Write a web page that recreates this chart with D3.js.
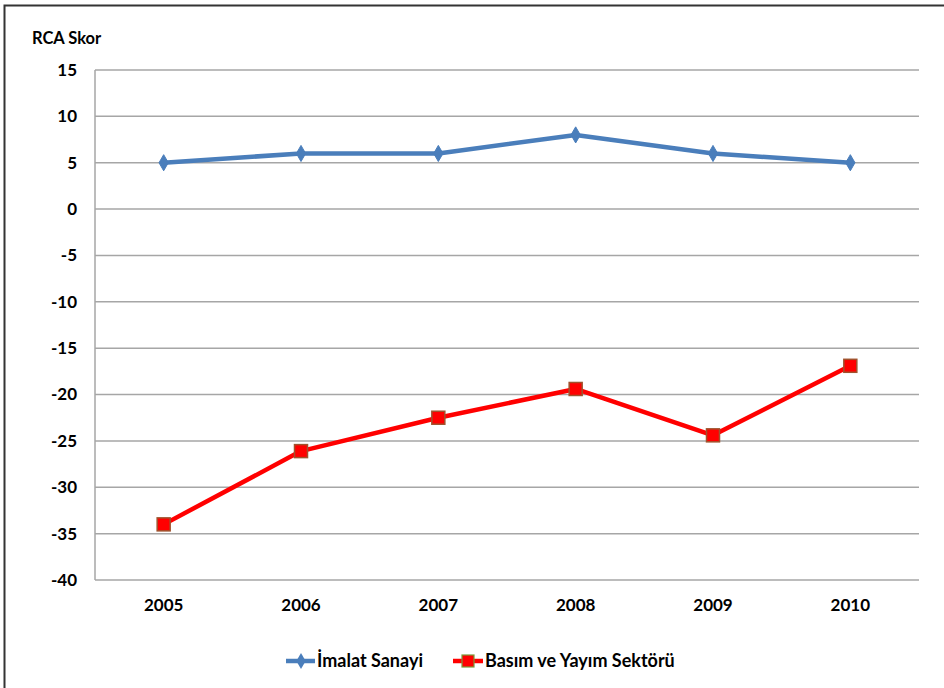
<!DOCTYPE html>
<html><head><meta charset="utf-8">
<script src="https://cdn.jsdelivr.net/npm/d3@7"></script>
<style>body{margin:0;background:#fff}svg{display:block}</style>
</head><body>
<script>
const years = ["2005","2006","2007","2008","2009","2010"];
const imalat = [5, 6, 6, 8, 6, 5];
const basim = [-34, -26.1, -22.5, -19.4, -24.4, -16.9];
const yTicks = [15,10,5,0,-5,-10,-15,-20,-25,-30,-35,-40];
const seriesNames = ["İmalat Sanayi", "Basım ve Yayım Sektörü"];

const W = 944, H = 688;
const font = "Lato, 'Open Sans', sans-serif";
const svg = d3.select("body").append("svg").attr("width", W).attr("height", H);
svg.append("rect").attr("x", 0).attr("y", 0).attr("width", W).attr("height", H).attr("fill", "#fff");
// outer frame
svg.append("path").attr("d", `M4.5,${H+2} L4.5,5.5 L${W+2},5.5`).attr("fill","none").attr("stroke","#333").attr("stroke-width",2);

const L = 95, R = 919, T = 70, B = 580;
const x = d3.scaleBand().domain(years).range([L, R]);
const y = d3.scaleLinear().domain([-40, 15]).range([B, T]);

// gridlines
svg.append("g").selectAll("line").data(yTicks).join("line")
  .attr("x1", L).attr("x2", R).attr("y1", d => y(d)).attr("y2", d => y(d))
  .attr("stroke", "#a6a6a6").attr("stroke-width", 1.5);
svg.append("line").attr("x1", L).attr("x2", L).attr("y1", T).attr("y2", B)
  .attr("stroke", "#a6a6a6").attr("stroke-width", 1.5);

// y labels
svg.append("g").selectAll("text").data(yTicks).join("text")
  .attr("x", 77).attr("y", d => y(d)).attr("dy", "0.35em").attr("text-anchor", "end")
  .attr("font-family", font).attr("font-weight", "bold").attr("font-size", 17).attr("fill", "#000")
  .text(d => d);
// x labels
svg.append("g").selectAll("text").data(years).join("text")
  .attr("x", d => x(d) + x.bandwidth()/2).attr("y", 611).attr("text-anchor", "middle")
  .attr("font-family", font).attr("font-weight", "bold").attr("font-size", 17).attr("fill", "#000")
  .text(d => d);
// axis title
svg.append("text").attr("x", 32).attr("y", 44).attr("font-family", font).attr("font-weight", "bold")
  .attr("font-size", 16.5).attr("fill", "#000").text("RCA Skor");

const cx = (d, i) => x(years[i]) + x.bandwidth()/2;
const line = d3.line().x((d, i) => cx(d, i)).y(d => y(d));

const blue = "#4a7ebb", red = "#ff0000";
svg.append("path").datum(imalat).attr("d", line).attr("fill", "none")
  .attr("stroke", blue).attr("stroke-width", 4.5).attr("stroke-linejoin", "round");
const diamond = d3.symbol().type(d3.symbolDiamond).size(75);
svg.append("g").selectAll("path").data(imalat).join("path")
  .attr("transform", (d, i) => `translate(${cx(d,i)},${y(d)})`)
  .attr("d", diamond).attr("fill", blue).attr("stroke", blue).attr("stroke-width", 1);

svg.append("path").datum(basim).attr("d", line).attr("fill", "none")
  .attr("stroke", red).attr("stroke-width", 4.5).attr("stroke-linejoin", "round");
svg.append("g").selectAll("rect").data(basim).join("rect")
  .attr("x", (d, i) => cx(d,i) - 6.5).attr("y", d => y(d) - 6.5)
  .attr("width", 13).attr("height", 13).attr("fill", red).attr("stroke", "#a0522d").attr("stroke-width", 1.5);

// legend
const ly = 661;
const lg = svg.append("g");
lg.append("line").attr("x1", 286).attr("x2", 315).attr("y1", ly).attr("y2", ly).attr("stroke", blue).attr("stroke-width", 4.5);
lg.append("path").attr("transform", `translate(301,${ly})`).attr("d", diamond).attr("fill", blue);
lg.append("text").attr("x", 317).attr("y", ly).attr("dy", "0.35em").attr("font-family", font).attr("font-weight", "bold")
  .attr("font-size", 18).attr("fill", "#000").text(seriesNames[0]);
lg.append("line").attr("x1", 453).attr("x2", 483).attr("y1", ly).attr("y2", ly).attr("stroke", red).attr("stroke-width", 4.5);
lg.append("rect").attr("x", 462).attr("y", ly - 6).attr("width", 12).attr("height", 12).attr("fill", red).attr("stroke", "#7a9a3a").attr("stroke-width", 1.2);
lg.append("text").attr("x", 485).attr("y", ly).attr("dy", "0.35em").attr("font-family", font).attr("font-weight", "bold")
  .attr("font-size", 18).attr("fill", "#000").text(seriesNames[1]);
</script>
</body></html>
